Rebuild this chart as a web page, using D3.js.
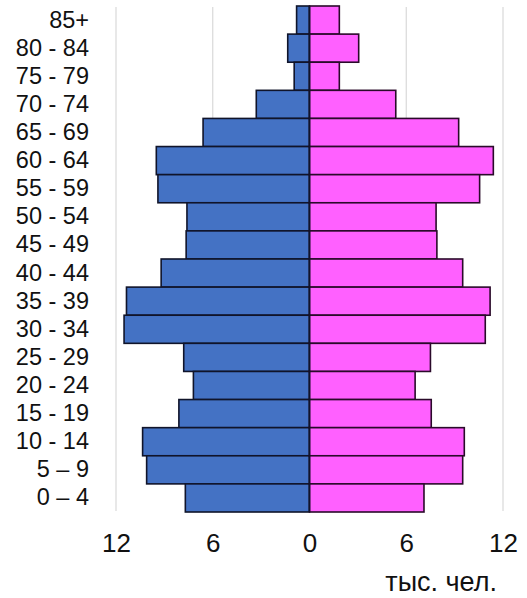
<!DOCTYPE html>
<html>
<head>
<meta charset="utf-8">
<script src="https://cdn.jsdelivr.net/npm/d3@7"></script>
<style>
  html, body { margin: 0; padding: 0; background: #fff; }
  svg { display: block; font-family: Arial, "Liberation Sans", sans-serif; }
</style>
</head>
<body>
<svg id="chart" width="527" height="598"></svg>
<script>
// Age groups, top to bottom
const ageGroups = ["85+", "80 - 84", "75 - 79", "70 - 74", "65 - 69", "60 - 64", "55 - 59", "50 - 54",
  "45 - 49", "40 - 44", "35 - 39", "30 - 34", "25 - 29", "20 - 24", "15 - 19", "10 - 14", "5 – 9", "0 – 4"];
// Thousands of people
const maleValues   = [0.8, 1.35, 0.95, 3.3, 6.6, 9.5, 9.4, 7.6, 7.65, 9.2, 11.35, 11.5, 7.8, 7.2, 8.1, 10.35, 10.1, 7.7];
const femaleValues = [1.85, 3.05, 1.85, 5.35, 9.25, 11.4, 10.55, 7.85, 7.9, 9.5, 11.2, 10.9, 7.5, 6.55, 7.55, 9.6, 9.5, 7.1];
const tickValues = [-12, -6, 0, 6, 12];
const unitLabel = "тыс. чел.";

const svg = d3.select("#chart");

const x = d3.scaleLinear().domain([-12, 12]).range([116, 503]);
const y = d3.scaleBand().domain(ageGroups).range([6, 512]).padding(0);

// grid lines
svg.append("g").selectAll("line")
  .data(tickValues.filter(d => d !== 0))
  .join("line")
  .attr("x1", d => x(d)).attr("x2", d => x(d))
  .attr("y1", 7).attr("y2", 511)
  .attr("stroke", "#d9d9d9").attr("stroke-width", 1.2);

const rows = ageGroups.map((g, i) => ({ g, m: maleValues[i], f: femaleValues[i] }));

// male bars
svg.append("g").selectAll("rect")
  .data(rows)
  .join("rect")
  .attr("x", d => x(-d.m))
  .attr("y", d => y(d.g))
  .attr("width", d => x(0) - x(-d.m))
  .attr("height", y.bandwidth())
  .attr("fill", "#4472C4")
  .attr("stroke", "#10142a").attr("stroke-width", 1.6);

// female bars
svg.append("g").selectAll("rect")
  .data(rows)
  .join("rect")
  .attr("x", x(0))
  .attr("y", d => y(d.g))
  .attr("width", d => x(d.f) - x(0))
  .attr("height", y.bandwidth())
  .attr("fill", "#FF60FF")
  .attr("stroke", "#2a0a2a").attr("stroke-width", 1.6);

// center line
svg.append("line")
  .attr("x1", x(0)).attr("x2", x(0))
  .attr("y1", y.range()[0]).attr("y2", y.range()[1])
  .attr("stroke", "#10142a").attr("stroke-width", 1.6);

// age labels
const yAxis = d3.axisLeft(y).tickSize(0).tickPadding(0);
const ya = svg.append("g").attr("transform", "translate(89,0)").call(yAxis);
ya.select(".domain").remove();
ya.selectAll("text")
  .attr("font-size", 23.5).attr("fill", "#111")
  .attr("font-family", "Arial, 'Liberation Sans', sans-serif");

// x ticks
const xAxis = d3.axisBottom(x).tickValues(tickValues).tickSize(0).tickPadding(0).tickFormat(d => Math.abs(d));
const xa = svg.append("g").attr("transform", "translate(0,533)").call(xAxis);
xa.select(".domain").remove();
xa.selectAll("text")
  .attr("font-size", 26).attr("fill", "#111")
  .attr("dy", "0.72em")
  .attr("font-family", "Arial, 'Liberation Sans', sans-serif");

// unit label
svg.append("text")
  .attr("x", 497).attr("y", 591)
  .attr("text-anchor", "end")
  .attr("font-size", 27).attr("fill", "#111")
  .text(unitLabel);
</script>
</body>
</html>
